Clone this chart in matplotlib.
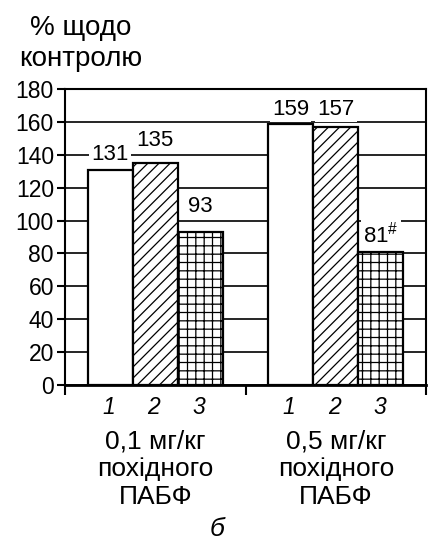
import numpy as np
import matplotlib
matplotlib.use("Agg")
import matplotlib.pyplot as plt

plt.rcParams['font.family'] = ['Liberation Sans', 'DejaVu Sans']
plt.rcParams['mathtext.fontset'] = 'custom'
plt.rcParams['mathtext.rm'] = 'Liberation Sans'
plt.rcParams['hatch.linewidth'] = 0.9

# data
groups = [['0,1 мг/кг', 'похідного', 'ПАБФ'],
          ['0,5 мг/кг', 'похідного', 'ПАБФ']]
series_names = ['1', '2', '3']
series_values = [
    [131, 159],   # 1
    [135, 157],   # 2
    [93, 81],     # 3
]
value_labels = [
    ['131', '159'],
    ['135', '157'],
    ['93', r'81$^{\#}$'],
]
y_ticks = [0, 20, 40, 60, 80, 100, 120, 140, 160, 180]

# label lift above bar top, points (as in the original layout)
label_lift = [
    [7, 6],
    [12, 8.5],
    [14.5, 7],
]

hatches = ['', '///', '++']
FS = 16.5    # tick numbers
FS_VAL = 16  # value labels
FS_TXT = 19  # words

fig = plt.figure(figsize=(4.28, 5.41), dpi=100)
ax = fig.add_axes([65 / 428, 1 - 385 / 541, (426 - 65) / 428, (385 - 89) / 541])

centers = np.arange(len(groups)) + 0.5
width = 0.25
for i, vals in enumerate(series_values):
    xs = centers + (i - 1) * width
    ax.bar(xs, vals, width=width, color='white', edgecolor='black',
           linewidth=1.6, hatch=hatches[i], zorder=3)
    for x, v, lab, lift in zip(xs, vals, value_labels[i], label_lift[i]):
        ax.annotate(lab, xy=(x, v), xytext=(0, lift), textcoords='offset points',
                    ha='center', va='baseline', fontsize=FS_VAL, zorder=2.5,
                    bbox=dict(boxstyle='square,pad=0.1', fc='white', ec='none'))
    for x in xs:
        ax.annotate(series_names[i], xy=(x, 0), xycoords=('data', 'axes fraction'),
                    xytext=(-1, -8), textcoords='offset points',
                    ha='center', va='top', fontsize=FS, style='italic')

# group captions, one line at a time
line_offsets = [-41, -60.5, -80.5]
for c, g in zip(centers, groups):
    for line, off in zip(g, line_offsets):
        ax.annotate(line, xy=(c, 0), xycoords=('data', 'axes fraction'),
                    xytext=(0, off), textcoords='offset points',
                    ha='center', va='center', fontsize=FS_TXT)

ax.set_xlim(0, 2)
ax.set_ylim(0, 180)
ax.set_yticks(y_ticks)
ax.set_xticks([0, 1, 2])
ax.set_xticklabels([])
ax.tick_params(axis='y', labelsize=FS, length=6, width=1.5, pad=2, direction='out')
ax.tick_params(axis='x', length=7, width=1.5, direction='out')
ax.yaxis.grid(True, color='black', linewidth=1.2, zorder=0)
ax.set_axisbelow(True)
for s in ax.spines.values():
    s.set_linewidth(1.5)
ax.spines['bottom'].set_linewidth(2)

fig.text(81 / 428, 1 - 28 / 541, '% щодо', ha='center', va='center', fontsize=FS_TXT + 1)
fig.text(81 / 428, 1 - 59 / 541, 'контролю', ha='center', va='center', fontsize=FS_TXT + 1)
fig.text(217 / 428, 1 - 529 / 541, 'б', ha='center', va='center', fontsize=FS_TXT,
         style='italic')

fig.savefig('out.png', dpi=100)
